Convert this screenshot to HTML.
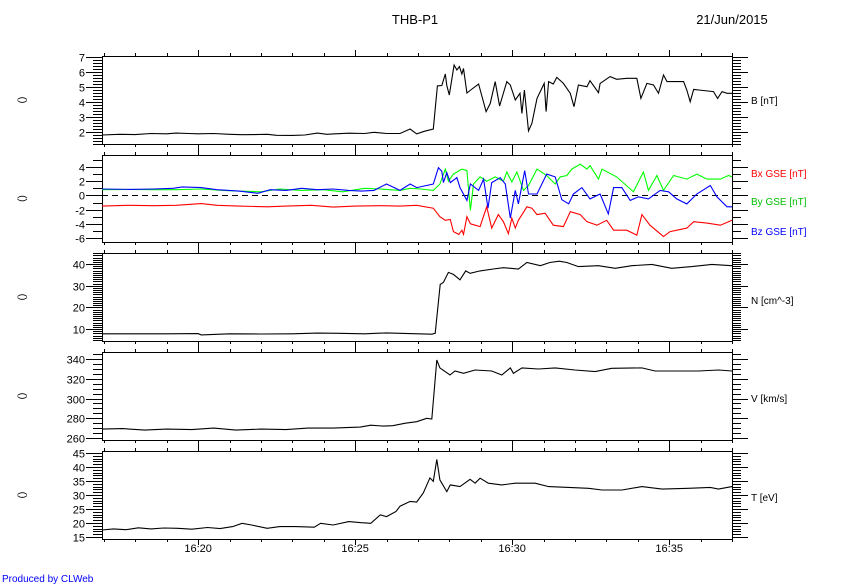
<!DOCTYPE html>
<html><head><meta charset="utf-8"><style>
html,body{margin:0;padding:0;background:#fff;}
svg{display:block;font-family:"Liberation Sans",sans-serif;}
</style></head><body>
<svg id="c" width="864" height="584" viewBox="0 0 864 584">
<text x="415" y="24" font-size="13" text-anchor="middle">THB-P1</text>
<text x="732" y="24" font-size="13" text-anchor="middle">21/Jun/2015</text>
<text x="2" y="582" font-size="10" fill="#0000ff">Produced by CLWeb</text>
</svg>
<script>
// Time in minutes after 16:00
const xTickLabels = ["16:20","16:25","16:30","16:35"];
const xTickMinutes = [20,25,30,35];

const bT = [16.94,17.5,18.0,18.5,19.0,19.3,19.7,20.0,20.5,21.0,21.4,21.8,22.2,22.5,23.0,23.4,23.8,24.1,24.3,24.8,25.3,25.6,26.0,26.43,26.75,26.96,27.2,27.49,27.62,27.76,27.87,27.92,28.0,28.15,28.24,28.32,28.4,28.45,28.56,28.72,28.93,29.17,29.3,29.46,29.6,29.83,29.94,30.1,30.25,30.31,30.39,30.52,30.63,30.79,31.02,31.08,31.16,31.31,31.42,31.63,31.85,31.97,32.11,32.38,32.48,32.75,32.8,33.12,33.33,33.65,33.97,34.1,34.29,34.5,34.66,34.82,34.93,35.46,35.56,35.67,35.78,35.94,36.41,36.54,36.68,36.84,37.0];
const bVal = [1.8,1.85,1.83,1.9,1.88,1.93,1.9,1.88,1.9,1.85,1.82,1.83,1.85,1.78,1.77,1.8,1.93,1.85,1.87,1.92,1.9,1.98,1.9,1.9,2.2,1.87,2.05,2.2,5.07,5.1,5.87,5.1,4.47,6.47,6.13,6.36,5.87,6.24,4.6,4.87,5.2,3.36,3.9,5.36,3.73,5.36,5.13,4.13,4.58,3.24,4.8,2.07,2.58,4.24,5.24,3.36,5.36,5.2,5.64,5.24,4.58,3.69,5.13,5.02,5.42,4.62,5.24,5.69,5.51,5.58,5.58,4.24,5.24,5.13,4.58,5.8,5.36,5.36,4.8,4.02,4.84,4.8,4.69,4.24,4.69,4.58,4.58];

const bxT = [16.94,17.8,18.6,19.3,20.1,20.6,21.3,22.2,22.8,23.6,24.3,25.0,25.8,26.43,26.96,27.49,27.7,27.87,28.03,28.13,28.3,28.4,28.45,28.56,28.67,28.82,28.98,29.19,29.35,29.56,29.72,29.88,29.99,30.1,30.2,30.47,30.63,30.79,31.05,31.31,31.63,31.85,32.17,32.38,32.7,33.01,33.23,33.65,33.97,34.13,34.39,34.82,35.03,35.56,35.78,36.2,36.63,37.0];
const bxVal = [-1.5,-1.4,-1.45,-1.4,-1.15,-1.4,-1.5,-1.6,-1.5,-1.4,-1.65,-1.5,-1.45,-1.5,-1.4,-1.8,-3.0,-3.5,-3.4,-5.1,-5.5,-4.9,-5.5,-3.0,-4.0,-4.2,-4.4,-1.6,-4.6,-2.7,-3.7,-5.4,-3.2,-4.6,-3.5,-1.6,-1.8,-2.7,-2.5,-4.2,-4.4,-2.3,-2.7,-3.7,-4.2,-3.5,-4.9,-4.9,-5.6,-2.7,-4.2,-5.8,-5.1,-4.6,-3.7,-3.9,-4.2,-3.5];

const byT = [16.94,17.8,18.6,19.3,20.1,20.8,21.3,22.0,22.6,23.3,24.0,24.6,25.3,25.8,26.43,26.75,27.1,27.49,27.7,27.87,27.97,28.13,28.4,28.56,28.67,28.77,28.98,29.19,29.46,29.72,29.83,29.99,30.15,30.36,30.52,30.79,31.1,31.37,31.53,31.74,31.9,32.17,32.38,32.48,32.75,32.86,33.33,33.86,34.18,34.34,34.61,34.82,35.14,35.56,35.88,36.2,36.63,36.89,37.0];
const byVal = [0.8,0.85,0.8,0.8,0.9,0.7,0.6,0.5,0.9,0.7,0.8,0.5,1.0,0.9,0.7,1.0,0.9,0.7,1.6,3.7,2.0,3.0,3.7,3.5,-2.1,1.6,2.6,2.0,2.6,2.0,3.3,1.9,3.3,0.7,1.4,3.7,2.8,1.6,2.6,2.8,3.7,4.4,3.7,4.2,2.3,3.7,2.6,0.5,3.3,0.7,2.8,0.7,2.8,2.3,3.0,2.3,2.3,2.8,2.6];

const bzT = [16.94,17.8,18.6,19.2,19.5,20.1,20.6,21.3,21.9,22.3,22.8,23.3,23.8,24.3,24.8,25.2,25.6,26.0,26.43,26.75,26.96,27.49,27.65,27.76,27.81,27.92,28.03,28.24,28.34,28.56,28.67,28.93,29.09,29.23,29.35,29.62,29.78,29.94,30.1,30.2,30.4,30.52,30.79,31.1,31.37,31.58,31.8,31.95,32.22,32.48,32.8,33.06,33.23,33.49,33.76,34.02,34.34,34.71,34.98,35.24,35.56,35.88,36.31,36.52,36.84,37.0];
const bzVal = [0.9,0.85,0.9,1.0,1.2,1.1,0.8,0.6,0.3,0.8,0.7,1.0,0.8,0.9,0.7,0.6,0.7,1.6,0.7,1.6,1.1,1.6,3.9,3.4,1.8,3.2,1.8,2.5,1.1,-0.7,1.6,0.7,2.3,-1.8,1.8,2.5,1.6,-3.2,0.7,-1.2,3.5,0.2,0.2,3.0,2.6,-0.6,-1.2,0.2,1.1,-0.5,0.2,-2.6,1.1,1.1,-0.7,-0.2,-0.5,0.7,0.5,-0.5,-1.2,0.2,1.4,-0.2,-1.6,-1.6];

const nT = [16.94,18.0,19.0,20.0,20.1,21.0,22.0,23.0,23.8,24.5,25.3,26.0,26.43,27.44,27.55,27.71,27.81,27.97,28.13,28.34,28.52,28.66,28.98,29.4,29.72,30.2,30.47,30.9,31.2,31.5,31.74,32.11,32.75,33.28,33.81,34.45,35.08,35.72,36.36,37.0];
const nVal = [7.8,7.8,7.8,7.9,7.3,7.8,7.7,7.8,8.1,8.0,7.8,8.2,8.0,7.6,8.0,30.6,31.5,36.1,35.2,32.7,36.8,35.7,36.8,37.7,38.3,37.7,40.7,39.2,40.7,41.3,40.7,38.8,39.2,38.0,39.2,39.8,38.0,38.8,39.8,39.2];

const vT = [16.94,17.6,18.3,19.0,19.8,20.5,21.2,22.0,22.8,23.5,24.3,25.16,25.5,25.9,26.2,26.6,26.96,27.28,27.44,27.6,27.7,28.02,28.18,28.45,28.82,29.35,29.67,29.94,30.04,30.31,30.84,31.37,32.0,32.64,33.17,34.13,34.55,35.19,35.93,36.57,37.0];
const vVal = [269,269.5,268,269,268.5,270,268,269,268.5,270,270,271,273,272,272.5,275,276.5,279.9,279.2,339,331,323.8,327.8,325.5,328.9,327.8,323.8,331,325.5,331,329.9,331,328.9,327.2,330.6,331,327.8,327.8,327.8,328.9,327.8];

const tT = [16.94,17.3,17.7,18.1,18.5,18.9,19.35,19.8,20.3,20.7,21.1,21.4,21.7,22.2,22.6,23.1,23.7,23.9,24.3,24.8,25.2,25.5,25.8,26.0,26.3,26.43,26.75,26.96,27.17,27.38,27.49,27.6,27.7,27.92,28.03,28.34,28.66,28.82,28.98,29.24,29.67,30.1,30.73,31.16,31.8,32.43,32.86,33.5,34.13,34.77,35.61,36.31,36.57,37.0];
const tVal = [17.5,17.9,17.6,18.3,17.9,18.2,18.1,17.8,18.4,18.0,18.7,19.9,19.3,18.1,18.7,18.7,18.5,19.9,19.3,20.5,20.1,19.9,22.9,22.3,24.1,26.0,27.7,27.5,30.7,36.1,34.9,42.7,35.4,31.2,33.6,33.0,35.6,34.2,36.0,34.2,33.6,34.2,34.2,33.0,32.7,32.4,31.8,31.8,33.0,32.1,32.4,32.7,32.1,33.0];

const NS = "http://www.w3.org/2000/svg";
const svg = document.getElementById('c');
const X0 = 102, X1 = 732, T0 = 16.94, T1 = 37.0;
function xs(t){ return X0 + (t - T0) / (T1 - T0) * (X1 - X0); }
function mk(tag, attrs){ const e = document.createElementNS(NS, tag); for (const k in attrs) e.setAttribute(k, attrs[k]); return e; }

const panels = [
  {name:'b-panel', top:56, bot:144, vTop:7, vTopY:57, vBot:2, vBotY:132, majors:[2,3,4,5,6,7], minor:0.2, lo:1, hi:7.2},
  {name:'bgse-panel', top:155, bot:242, vTop:4, vTopY:167, vBot:-6, vBotY:238, majors:[-6,-4,-2,0,2,4], minor:1, lo:-6.5, hi:5.5},
  {name:'n-panel', top:253, bot:341, vTop:40, vTopY:264, vBot:10, vBotY:329, majors:[10,20,30,40], minor:1, lo:5, hi:45},
  {name:'v-panel', top:352, bot:440, vTop:340, vTopY:359, vBot:260, vBotY:438, majors:[260,280,300,320,340], minor:5, lo:258, hi:346},
  {name:'t-panel', top:451, bot:539, vTop:45, vTopY:453, vBot:15, vBotY:537, majors:[15,20,25,30,35,40,45], minor:1, lo:14, hi:45.7}
];
panels.forEach(p => { p.ys = v => p.vBotY + (v - p.vBot) * (p.vTopY - p.vBotY) / (p.vTop - p.vBot); });

panels.forEach((p, i) => {
  const g = mk('g', {'shape-rendering':'crispEdges', stroke:'#000', 'stroke-width':1});
  
  
  svg.appendChild(g);
  const box = mk('rect', {x:X0+0.5, y:p.top+0.5, width:X1-X0, height:p.bot-p.top, fill:'none'});
  
  
  g.appendChild(box);
  // y minor ticks
  for (let v = Math.ceil(p.lo / p.minor) * p.minor; v <= p.hi + 1e-9; v += p.minor) {
    const y = Math.round(p.ys(v)) + 0.5;
    if (y < p.top || y > p.bot + 1) continue;
    g.appendChild(mk('line', {x1:X0-9, x2:X0, y1:y, y2:y}));
    g.appendChild(mk('line', {x1:X1, x2:X1+9, y1:y, y2:y}));
  }
  // y majors
  p.majors.forEach(v => {
    const y = Math.round(p.ys(v)) + 0.5;
    g.appendChild(mk('line', {x1:X0-16, x2:X0, y1:y, y2:y}));
    g.appendChild(mk('line', {x1:X1, x2:X1+16, y1:y, y2:y}));
    const tx = mk('text', {x:X0-17, y:y+4, 'font-size':11, 'text-anchor':'end', stroke:'none', fill:'#000'});
    tx.textContent = String(v);
    
    
    g.appendChild(tx);
  });
  // x ticks every minute
  for (let m = 17; m <= 37; m++) {
    const x = Math.round(xs(m)) + 0.5;
    const len = (m % 5 === 0) ? 6 : 3;
    g.appendChild(mk('line', {x1:x, x2:x, y1:p.top-len, y2:p.top}));
    g.appendChild(mk('line', {x1:x, x2:x, y1:p.bot, y2:p.bot+len}));
  }
  // left unit label
  const lab = mk('text', {x:0, y:0, 'font-size':10, 'text-anchor':'middle', stroke:'none', fill:'#000', transform:'translate(25,' + ((p.top+p.bot)/2) + ') rotate(-90)'});
  lab.textContent = '()';
  
  
  g.appendChild(lab);
});

// x labels
xTickMinutes.forEach((m, i) => {
  const t = mk('text', {x:xs(m), y:552, 'font-size':11, 'text-anchor':'middle'});
  t.textContent = xTickLabels[i];
  
  
  svg.appendChild(t);
});

// zero dashed line in panel 2
const zl = mk('line', {x1:X0, x2:X1, y1:Math.round(panels[1].ys(0))+0.5, y2:Math.round(panels[1].ys(0))+0.5, stroke:'#000', 'stroke-dasharray':'6,4'});


svg.appendChild(zl);

function series(p, ts, vs, color, name){
  const pts = ts.map((t, i) => xs(t).toFixed(1) + ',' + p.ys(vs[i]).toFixed(1)).join(' ');
  const pl = mk('polyline', {points:pts, fill:'none', stroke:color, 'stroke-width':1.1});
  
  
  svg.appendChild(pl);
}
series(panels[0], bT, bVal, '#000', 'b-line');
series(panels[1], byT, byVal, '#00ff00', 'by-line');
series(panels[1], bzT, bzVal, '#0000ff', 'bz-line');
series(panels[1], bxT, bxVal, '#ff0000', 'bx-line');
series(panels[2], nT, nVal, '#000', 'n-line');
series(panels[3], vT, vVal, '#000', 'v-line');
series(panels[4], tT, tVal, '#000', 't-line');

const rlabels = [
  ['B [nT]', 100, '#000', 'b-label'],
  ['Bx GSE [nT]', 173, '#ff0000', 'bx-label'],
  ['By GSE [nT]', 201, '#00c000', 'by-label'],
  ['Bz GSE [nT]', 231, '#0000ff', 'bz-label'],
  ['N [cm^-3]', 300, '#000', 'n-label'],
  ['V [km/s]', 398, '#000', 'v-label'],
  ['T [eV]', 497, '#000', 't-label']
];
rlabels.forEach(r => {
  const t = mk('text', {x:751, y:r[1]+4, 'font-size':10, fill:r[2]});
  t.textContent = r[0];
  
  
  svg.appendChild(t);
});
</script>
</body></html>
